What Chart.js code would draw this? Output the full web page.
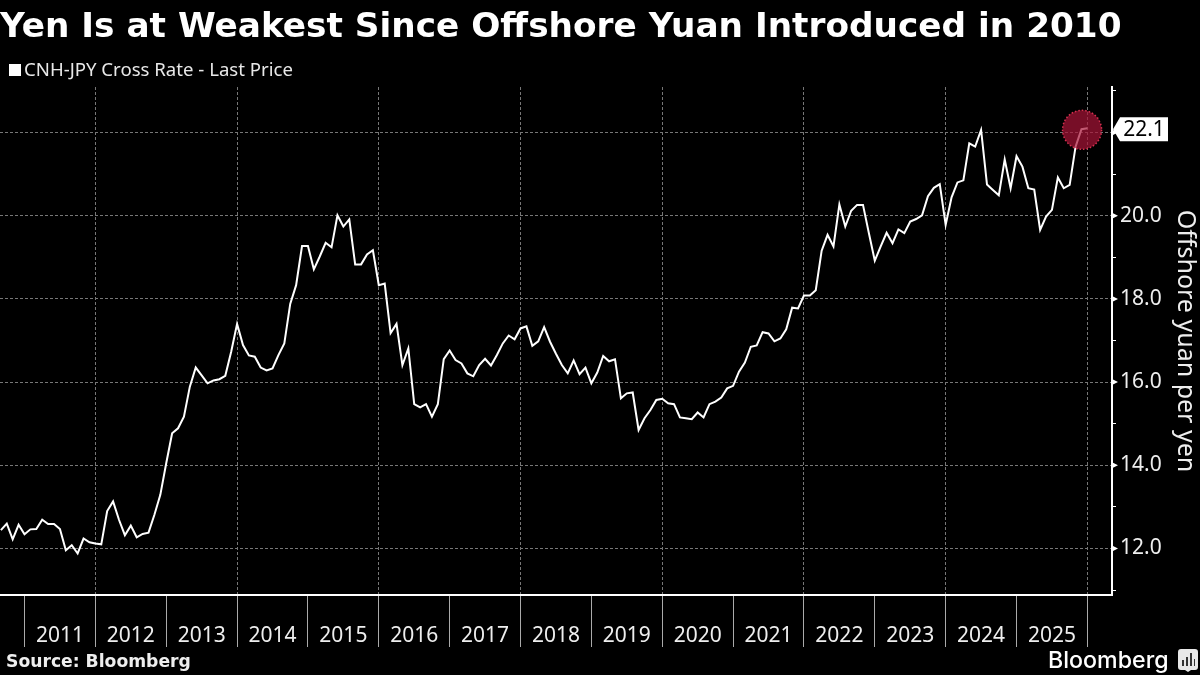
<!DOCTYPE html>
<html>
<head>
<meta charset="utf-8">
<title>Yen Is at Weakest Since Offshore Yuan Introduced in 2010</title>
<script src="https://cdn.jsdelivr.net/npm/chart.js@4"></script>
<style>
    html, body { margin: 0; background: #000; }
    #wrap { position: relative; width: 1200px; height: 675px; overflow: hidden; color: #fff; }
    #wrap canvas { position: absolute; left: 0; top: 0; }
    #title { position: absolute; left: 0; top: 5px; font: bold 34.3px "DejaVu Sans"; white-space: nowrap; }
    #legend { position: absolute; left: 9px; top: 57px; font: 18.6px "Noto Sans"; color: #e8e8e8; white-space: nowrap; line-height: 24px; }
    #legend i { display: inline-block; width: 12px; height: 12px; background: #fff; margin-right: 3px; }
    #source { position: absolute; left: 6px; top: 651px; font: bold 17.2px "DejaVu Sans"; color: #eee; white-space: nowrap; }
    #brand { position: absolute; left: 1048px; top: 646px; font: 500 23.2px Inter; white-space: nowrap; }
    #icon { position: absolute; left: 1178px; top: 649px; }
</style>
</head>
<body>
<div id="wrap">
    <canvas id="fxChart" width="1200" height="675"></canvas>
    <div id="title">Yen Is at Weakest Since Offshore Yuan Introduced in 2010</div>
    <div id="legend"><i></i>CNH-JPY Cross Rate - Last Price</div>
    <div id="source">Source: Bloomberg</div>
    <div id="brand">Bloomberg</div>
    <svg id="icon" width="20" height="23" viewBox="0 0 20 23">
        <path d="M3 0h14a3 3 0 0 1 3 3v15a3 3 0 0 1-3 3h-4l-3 2-3-2H3a3 3 0 0 1-3-3V3a3 3 0 0 1 3-3z" fill="#e8e8e8"/>
        <path d="M4 11h2v6H4zM8 8h2v9H8zM12 4h2v13h-2zM16 10h1v7h-1z" fill="#333"/>
    </svg>
</div>
<script>
// month-end CNH-JPY values, Sep 2010 to Jan 2026
const rateValues = [
    12.44, 12.60, 12.22, 12.57, 12.34, 12.46, 12.47, 12.69, 12.59, 12.59, 12.47, 11.96,
    12.08, 11.88, 12.24, 12.15, 12.12, 12.10, 12.90, 13.13, 12.69, 12.32, 12.55, 12.27,
    12.35, 12.38, 12.81, 13.29, 14.05, 14.77, 14.89, 15.17, 15.89, 16.35, 16.16, 15.97,
    16.04, 16.07, 16.15, 16.73, 17.40, 16.89, 16.64, 16.61, 16.35, 16.28, 16.33, 16.65,
    16.93, 17.88, 18.33, 19.27, 19.27, 18.71, 19.02, 19.35, 19.24, 20.01, 19.74, 19.91,
    18.83, 18.83, 19.07, 19.17, 18.33, 18.37, 17.18, 17.40, 16.41, 16.81, 15.47, 15.39,
    15.47, 15.17, 15.47, 16.55, 16.76, 16.53, 16.45, 16.21, 16.14, 16.41, 16.56, 16.40,
    16.65, 16.93, 17.12, 17.03, 17.29, 17.34, 16.87, 16.98, 17.32, 16.97, 16.68, 16.41,
    16.21, 16.52, 16.19, 16.35, 15.97, 16.23, 16.63, 16.50, 16.55, 15.61, 15.73, 15.75,
    14.85, 15.13, 15.33, 15.57, 15.60, 15.49, 15.47, 15.15, 15.13, 15.11, 15.27, 15.15,
    15.47, 15.53, 15.63, 15.85, 15.91, 16.25, 16.47, 16.85, 16.88, 17.20, 17.17, 16.98,
    17.05, 17.27, 17.79, 17.77, 18.08, 18.08, 18.21, 19.16, 19.54, 19.26, 20.27, 19.74,
    20.12, 20.26, 20.26, 19.58, 18.92, 19.26, 19.59, 19.34, 19.67, 19.58, 19.86, 19.92,
    20.01, 20.47, 20.67, 20.76, 19.78, 20.44, 20.80, 20.85, 21.74, 21.66, 22.06, 20.75,
    20.62, 20.49, 21.35, 20.66, 21.43, 21.18, 20.66, 20.63, 19.66, 19.98, 20.14, 20.92,
    20.66, 20.74, 21.66, 22.08, 22.10
];
const yearLabels = ['2011', '2012', '2013', '2014', '2015', '2016', '2017', '2018',
    '2019', '2020', '2021', '2022', '2023', '2024', '2025'];
const yTickValues = [11, 12, 13, 14, 15, 16, 17, 18, 19, 20, 21, 22, 23];
const seriesName = 'CNH-JPY Cross Rate - Last Price';
const yAxisTitle = 'Offshore yuan per yen';

const firstJanIndex = 4; // Jan 2011 is the 5th month in the series
const lastValue = rateValues[rateValues.length - 1];

function yearStart(i) { return firstJanIndex + i * 12; }

// January ticks plus a mid-year tick that only carries the year label
const xTickValues = [];
yearLabels.forEach((_, i) => {
    xTickValues.push(yearStart(i));
    xTickValues.push(yearStart(i) + 6);
});
xTickValues.push(yearStart(yearLabels.length));

function isJan(v) { return (v - firstJanIndex) % 12 === 0; }
function isEvenYear(v) { return isJan(v) && (v - firstJanIndex) % 24 === 12; }

const tickFont = { family: 'Noto Sans', size: 21 };

// red dotted marker, value tag and arrow heads on the y axis
const overlayPlugin = {
    id: 'overlay',
    afterDatasetsDraw(chart) {
        const ctx = chart.ctx;
        const xs = chart.scales.x;
        const ys = chart.scales.y;
        const cx = xs.getPixelForValue(rateValues.length - 2 + 0.1);
        const cy = ys.getPixelForValue(lastValue);
        ctx.save();
        ctx.beginPath();
        ctx.arc(cx, cy + 1.5, 19.5, 0, Math.PI * 2);
        ctx.fillStyle = 'rgba(170, 20, 55, 0.7)';
        ctx.fill();
        ctx.setLineDash([1.5, 2]);
        ctx.lineWidth = 1.5;
        ctx.strokeStyle = '#d4304f';
        ctx.stroke();
        ctx.restore();
    },
    afterDraw(chart) {
        const ctx = chart.ctx;
        const ys = chart.scales.y;
        const axisX = ys.left;
        ctx.save();
        ctx.fillStyle = '#fff';
        yTickValues.filter(v => v % 2 === 0).forEach(v => {
            const y = ys.getPixelForValue(v);
            ctx.beginPath();
            ctx.moveTo(axisX, y - 3);
            ctx.lineTo(axisX + 6, y);
            ctx.lineTo(axisX, y + 3);
            ctx.fill();
        });
        const tagY = ys.getPixelForValue(lastValue) + 1;
        ctx.beginPath();
        ctx.moveTo(axisX + 1, tagY);
        ctx.lineTo(axisX + 8, tagY - 12);
        ctx.lineTo(axisX + 56, tagY - 12);
        ctx.lineTo(axisX + 56, tagY + 12);
        ctx.lineTo(axisX + 8, tagY + 12);
        ctx.closePath();
        ctx.fill();
        ctx.fillStyle = '#000';
        ctx.font = '21px "Noto Sans"';
        ctx.textAlign = 'center';
        ctx.textBaseline = 'middle';
        ctx.fillText(lastValue.toFixed(1), axisX + 32, tagY + 1);
        ctx.restore();
    }
};

new Chart(document.getElementById('fxChart'), {
    type: 'line',
    data: {
        datasets: [{
            label: seriesName,
            data: rateValues.map((v, i) => ({ x: i, y: v })),
            borderColor: '#fff',
            borderWidth: 2,
            pointRadius: 0,
            tension: 0
        }]
    },
    options: {
        responsive: false,
        animation: false,
        layout: { padding: { top: 87, left: 0, right: 0, bottom: 0 } },
        plugins: { legend: { display: false }, tooltip: { enabled: false } },
        scales: {
            x: {
                type: 'linear',
                min: -0.15,
                max: 188.17,
                afterBuildTicks(scale) { scale.ticks = xTickValues.map(v => ({ value: v })); },
                afterFit(scale) { scale.height = 80; },
                border: { color: '#fff', width: 2, dash: [3, 2] },
                grid: {
                    color: ctx => isEvenYear(ctx.tick.value) ? '#777' : 'transparent',
                    tickColor: ctx => isJan(ctx.tick.value) ? '#aaa' : 'transparent',
                    tickLength: 52,
                    tickWidth: 1,
                    lineWidth: 1
                },
                ticks: {
                    color: '#eee',
                    font: tickFont,
                    padding: -24,
                    autoSkip: false,
                    maxRotation: 0,
                    callback(v) {
                        return isJan(v) ? '' : yearLabels[(v - firstJanIndex - 6) / 12];
                    }
                }
            },
            y: {
                position: 'right',
                min: 10.882,
                max: 23.094,
                afterBuildTicks(scale) { scale.ticks = yTickValues.map(v => ({ value: v })); },
                afterFit(scale) { scale.width = 88; },
                border: { color: '#fff', width: 2, dash: [3, 2] },
                grid: {
                    color: ctx => (ctx.tick && ctx.tick.value % 2 === 0 ? '#777' : 'transparent'),
                    tickColor: '#fff',
                    tickLength: 4,
                    tickWidth: 1,
                    lineWidth: 1
                },
                ticks: {
                    color: '#eee',
                    font: tickFont,
                    padding: 4,
                    callback(v) { return v % 2 === 0 ? v.toFixed(1) : ''; }
                },
                title: {
                    display: true,
                    text: yAxisTitle,
                    color: '#eee',
                    font: { family: 'Noto Sans', size: 25 },
                    padding: { top: 0, bottom: 8 }
                }
            }
        }
    },
    plugins: [overlayPlugin]
});
</script>
</body>
</html>
